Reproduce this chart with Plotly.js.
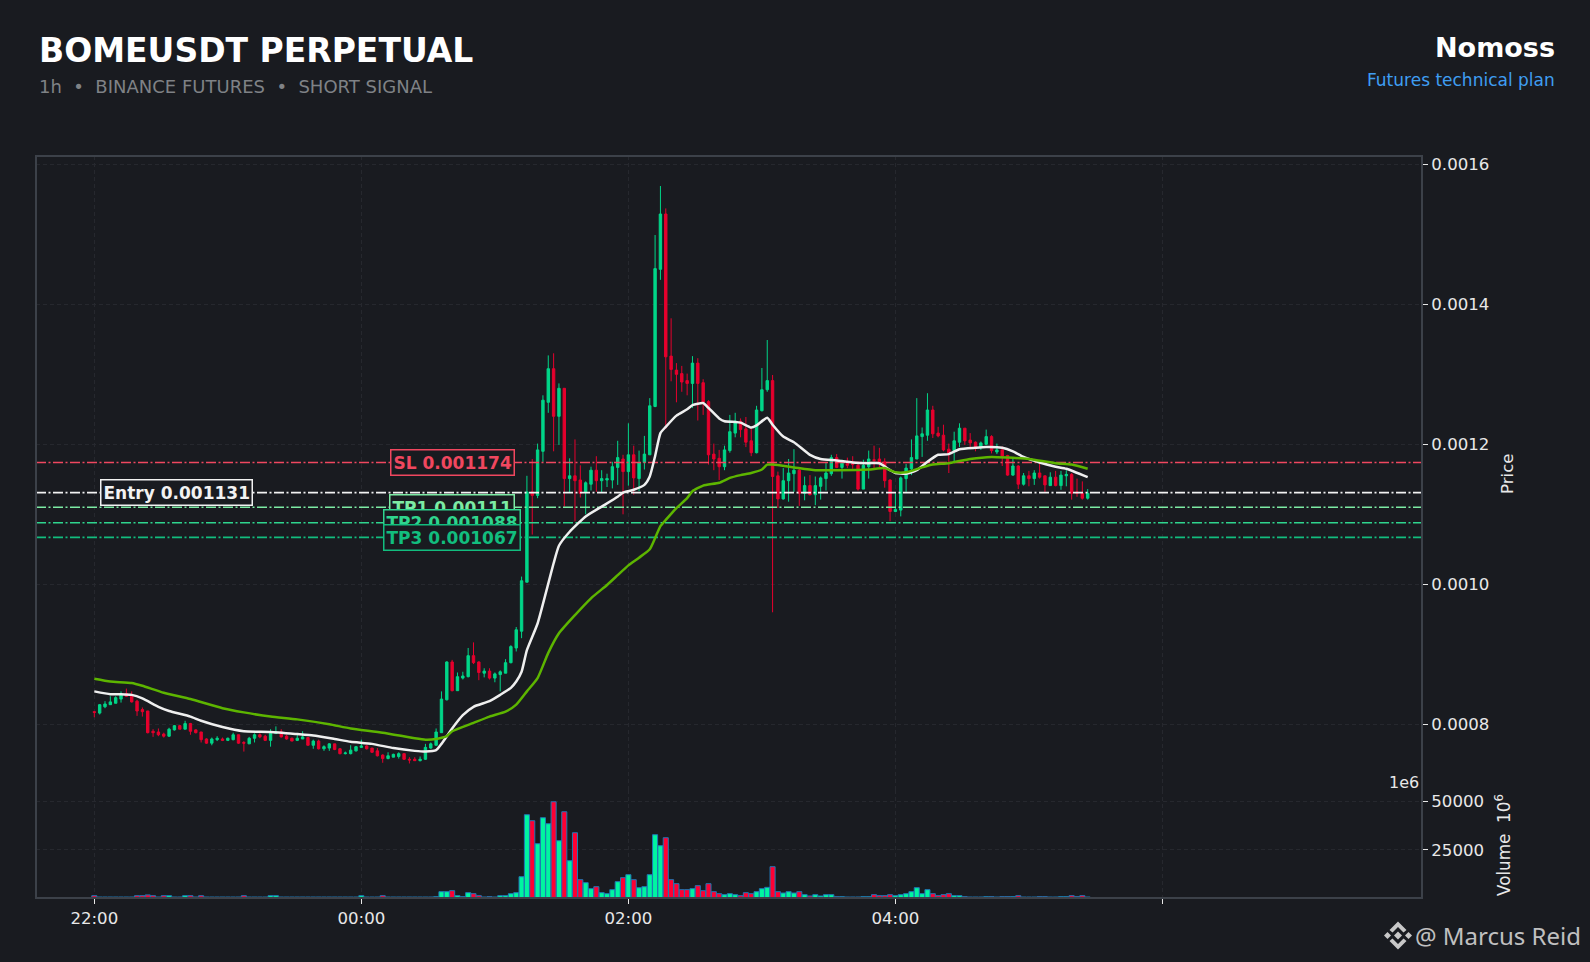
<!DOCTYPE html>
<html>
<head>
<meta charset="utf-8">
<script src="https://cdn.plot.ly/plotly-3.0.1.min.js"></script>
<style>html,body{margin:0;padding:0;background:#191b20}#chart{width:1590px;height:962px}</style>
</head>
<body>
<div id="chart"></div>
<script>
// Prices are listed in millionths of a USDT
const UNIT = 1e-6;
const openU = [818,816,825,828,830,836,844,840,833,821,819,790,789,786,783,792,798,793,801,792,789,779,773,778,779,777,778,785,774,772,780,785,783,777,787,789,783,780,777,779,781,770,776,765,766,772,765,758,758,762,767,769,766,762,756,751,753,754,758,750,750,748,750,766,770,788,835,
889,848,866,868,898,889,873,876,866,871,873,888,909,933,1003,1132,1127,1190,1260,1308,1240,1280,1151,1155,1149,1132,1143,1163,1148,1149,1149,
1167,1179,1161,1185,1151,1174,1185,1254,1450,1529,1326,1306,1301,1291,1287,1316,1288,1261,1186,1180,1168,1191,1216,1233,1222,1205,1188,1248,1278,
1291,1155,1122,1148,1158,1163,1130,1141,1128,1140,1151,1158,1181,1167,1173,1173,1170,1136,1168,1178,1179,1175,1149,1104,1106,1151,1165,1179,1211,1213,1249,1216,1213,1193,1191,1203,1223,1206,1203,1196,1200,1211,1189,1192,1184,1156,1169,1143,1155,1151,1159,1155,1141,1153,1141,1155,1157,1132,1130,1123];
const highU = [819,829,833,840,840,847,851,847,835,824,819,793,794,788,795,799,799,805,802,793,789,780,781,783,781,781,788,785,776,782,787,787,785,793,797,793,785,781,785,790,782,778,778,770,773,772,766,761,770,769,778,770,766,766,757,760,758,760,758,753,753,754,772,774,794,847,890,
892,874,875,909,917,890,880,880,874,877,893,913,939,1011,1155,1179,1201,1270,1327,1330,1287,1280,1180,1207,1170,1147,1168,1183,1163,1158,1175,
1205,1185,1230,1198,1191,1212,1266,1499,1569,1537,1380,1316,1312,1301,1326,1323,1293,1263,1201,1192,1198,1242,1245,1237,1239,1223,1255,1309,1349,
1299,1161,1166,1179,1193,1166,1154,1156,1154,1154,1175,1185,1186,1178,1181,1183,1175,1178,1191,1198,1195,1180,1150,1130,1154,1172,1207,1266,1224,1273,1255,1225,1228,1201,1218,1230,1223,1216,1204,1204,1221,1213,1201,1197,1185,1180,1170,1159,1162,1163,1174,1155,1160,1162,1162,1163,1159,1151,1147,1136];
const lowU = [810,814,823,828,830,831,839,831,812,811,787,782,783,781,782,791,793,793,785,787,774,772,770,776,776,776,777,772,761,772,774,780,776,768,786,781,778,776,776,779,770,765,764,762,762,763,757,757,757,761,766,764,759,754,745,750,753,751,749,744,748,747,749,765,770,788,834,
847,848,864,867,886,863,867,864,860,847,873,887,904,923,1003,1071,1123,1175,1245,1190,1199,1111,1131,1090,1124,1100,1134,1132,1131,1139,1137,
1142,1100,1141,1128,1133,1164,1185,1253,1435,1222,1290,1260,1275,1270,1252,1234,1242,1171,1163,1149,1163,1188,1210,1210,1196,1183,1187,1247,1275,
960,1109,1121,1118,1132,1112,1120,1127,1113,1121,1134,1155,1166,1151,1166,1165,1134,1136,1151,1166,1166,1138,1090,1103,1097,1132,1156,1179,1182,1205,1209,1210,1190,1159,1175,1196,1199,1194,1190,1192,1199,1187,1186,1169,1155,1155,1136,1141,1140,1142,1151,1132,1141,1140,1135,1140,1121,1125,1121,1121];
const closeU = [817,828,829,832,838,842,840,832,819,818,788,788,785,783,793,798,793,801,790,788,778,773,779,780,777,780,785,773,773,780,785,782,777,787,789,782,779,776,780,782,770,776,765,768,772,764,758,759,763,768,769,765,760,755,751,755,757,758,750,749,748,750,767,772,789,836,889,
848,868,869,898,888,874,876,866,872,875,888,911,935,1005,1132,1127,1192,1263,1308,1240,1280,1151,1155,1148,1130,1145,1163,1148,1151,1151,1168,
1181,1161,1185,1152,1174,1186,1255,1451,1529,1325,1307,1300,1289,1287,1316,1287,1260,1185,1179,1168,1192,1218,1233,1221,1203,1188,1249,1278,1291,
1154,1122,1148,1159,1163,1130,1141,1128,1141,1152,1159,1181,1167,1173,1170,1171,1136,1170,1179,1177,1174,1148,1104,1107,1152,1166,1181,1212,1215,1249,1215,1212,1192,1187,1205,1223,1205,1202,1196,1202,1211,1191,1192,1183,1156,1169,1143,1155,1151,1159,1153,1142,1153,1141,1156,1157,1130,1130,1123,1130];
const volumes = [1200,500,500,500,500,500,500,500,1200,1200,1600,1200,500,1200,1200,500,500,1200,1200,500,1200,500,500,500,500,500,500,500,1200,500,500,500,500,1200,1200,500,500,500,500,500,500,500,500,500,500,500,500,500,500,500,1200,500,500,500,1200,500,500,500,500,500,500,500,500,500,
690,3276,3276,3793,1207,690,2758,2241,1207,517,690,500,1207,1207,2241,2758,11034,43100,40000,28100,41550,38450,49820,29650,44650,19300,33790,9480,7930,4830,5860,2760,2240,4310,8450,10520,12070,9480,5340,5860,12070,32760,27070,31200,9480,7410,4310,4310,4830,6380,3790,7410,3280,2240,1720,2240,1720,1210,2760,2240,3280,
4830,5520,16200,3280,2590,3280,2590,3280,1720,1030,1720,1030,1720,1720,690,690,520,520,520,690,690,1720,1210,1210,1720,1210,1720,2240,3280,5340,2240,4310,2240,1210,1720,2240,1210,1210,690,500,500,500,690,690,500,690,690,690,1210,500,500,500,690,690,500,500,690,690,1210,690,1210,500];

const fastIdx = [0,3,5,7,9,12,14,18,20,24,28,33,38,41,45,48,52,56,60,62,64,65,66,67,69,71,74,76,78,79,80,81,83,85,86,87,89,92,95,98,99,101,103,104,105,106,107,109,111,112,114,115,117,118,120,121,123,124,126,127,129,131,134,136,139,142,145,147,149,150,152,154,156,158,160,162,165,167,170,172,174,177,180,182,186];
const fastVal = [847,843,843,842,837,825,819,811,805,796,790,789,786,784,779,775,772,766,762,761,763,772,783,794,813,825,833,842,852,861,875,906,944,1001,1030,1055,1075,1097,1111,1125,1131,1135,1142,1154,1183,1216,1225,1241,1250,1256,1259,1252,1237,1233,1232,1231,1224,1227,1238,1228,1211,1203,1185,1179,1177,1174,1173,1173,1163,1159,1158,1163,1175,1185,1186,1193,1195,1196,1195,1190,1182,1174,1168,1165,1153];
const slowIdx = [0,3,7,9,13,18,24,28,33,38,44,48,54,60,62,64,66,67,71,74,77,79,81,83,85,87,90,93,96,98,100,102,104,105,106,107,109,111,112,114,117,119,121,123,125,126,127,131,135,139,145,148,150,152,155,157,160,164,168,171,175,180,183,186];
const slowVal = [865,861,859,855,845,836,823,817,811,807,800,794,788,780,778,779,783,790,802,811,818,828,847,866,902,930,956,980,999,1013,1027,1038,1050,1066,1083,1092,1109,1123,1133,1141,1145,1152,1156,1159,1164,1171,1171,1167,1163,1163,1164,1166,1160,1160,1167,1171,1173,1179,1182,1181,1179,1173,1171,1165];

const levelNames = ['SL 0.001174','Entry 0.001131','TP1 0.00111','TP2 0.001088','TP3 0.001067'];
const levelPrices = [0.001174,0.001131,0.00111,0.001088,0.001067];
const levelColors = ['#f0475f','#f2f2f2','#7deba4','#2fd58e','#12bd7e'];
const labelAt = [67,15.3,67,67,67];

const xTickVals = [0,50,100,150,200];
const xTickText = ['22:00','00:00','02:00','04:00',''];
const priceTicks = [0.0008,0.001,0.0012,0.0014,0.0016];
const volumeTicks = [25000,50000];

const BG = '#191b20', GRID = '#26282e', TXT = '#e8e8e8', FONT = '"DejaVu Sans", sans-serif';
const TICK = 16.6, GDASH = '4px,3px';
const idx = openU.map((_, i) => i);
const xMin = -10.92, xMax = 248.6;
const scale = a => a.map(v => v * UNIT);

const traces = [];
traces.push({type:'candlestick', x:idx, open:scale(openU), high:scale(highU), low:scale(lowU), close:scale(closeU),
  xaxis:'x', yaxis:'y', whiskerwidth:0,
  increasing:{line:{color:'#00d688',width:1}, fillcolor:'#00d688'},
  decreasing:{line:{color:'#e6002d',width:1}, fillcolor:'#e6002d'}, hoverinfo:'skip'});
traces.push({type:'bar', x:idx, y:volumes, xaxis:'x', yaxis:'y2', width:0.95,
  marker:{color:idx.map(i => closeU[i] >= openU[i] ? '#00f5a0' : '#ff0033'), line:{color:'#1f77b4', width:1}}, hoverinfo:'skip'});
levelPrices.forEach((p, i) => traces.push({type:'scatter', mode:'lines', x:[xMin,xMax], y:[p,p], xaxis:'x', yaxis:'y',
  line:{color:levelColors[i], width:1.6, dash:'10px,2.5px,2px,2.5px'}, hoverinfo:'skip'}));
traces.push({type:'scatter', mode:'lines', x:fastIdx, y:scale(fastVal), xaxis:'x', yaxis:'y',
  line:{color:'#efefef', width:2.5, shape:'spline', smoothing:0.5}, hoverinfo:'skip'});
traces.push({type:'scatter', mode:'lines', x:slowIdx, y:scale(slowVal), xaxis:'x', yaxis:'y',
  line:{color:'#5db500', width:2.5, shape:'spline', smoothing:0.5}, hoverinfo:'skip'});

const L = 36, R = 1422, T = 156, B = 898;
const X = px => (px - L) / (R - L), Y = py => (B - py) / (B - T);
const text = (t, px, py, size, color, anchor, extra) => Object.assign({text:t, xref:'paper', yref:'paper', x:X(px), y:Y(py),
  xanchor:anchor, yanchor:'middle', showarrow:false, font:{family:FONT, size:size, color:color}}, extra || {});

const annotations = [
  text('<b>BOMEUSDT PERPETUAL</b>', 37, 50, 33, '#ffffff', 'left'),
  text('1h\u00a0\u00a0•\u00a0\u00a0BINANCE FUTURES\u00a0\u00a0•\u00a0\u00a0SHORT SIGNAL', 37, 86, 18, '#7f8286', 'left'),
  text('<b>Nomoss</b>', 1557, 47, 27, '#ffffff', 'right'),
  text('Futures technical plan', 1557, 80, 17, '#3f9ef2', 'right'),
  text('1e6', 1421, 782, 16, TXT, 'right'),
  text('Price', 1507, 474, 16.6, TXT, 'center', {textangle:-90}),
  text('Volume  10<sup>6</sup>', 1503, 845, 16.8, TXT, 'center', {textangle:-90}),
  text('@ Marcus Reid', 1583, 936, 24, '#c0c0c0', 'right', {font:{family:'"Noto Sans", sans-serif', size:24, color:'#c0c0c0'}})
];
levelNames.forEach((n, i) => annotations.push({text:'<b>'+n+'</b>', xref:'x', yref:'y', x:labelAt[i], y:levelPrices[i],
  xanchor:'center', yanchor:'middle', showarrow:false, bgcolor:BG, bordercolor:levelColors[i], borderwidth:1.5, borderpad:2,
  font:{family:FONT, size:17, color:levelColors[i]}}));

// Binance-style logo beside the watermark
const cx = 1398, cy = 935.5;
const poly = pts => 'M' + pts.map(p => X(cx + p[0]) + ',' + Y(cy + p[1])).join('L') + 'Z';
const logo = [
  [[0,-4],[4,0],[0,4],[-4,0]],
  [[-14,0],[-10.5,-3.5],[-7,0],[-10.5,3.5]],
  [[14,0],[10.5,-3.5],[7,0],[10.5,3.5]],
  [[0,-14],[8.5,-5.5],[5.5,-3],[0,-8.5],[-5.5,-3],[-8.5,-5.5]],
  [[0,14],[8.5,5.5],[5.5,3],[0,8.5],[-5.5,3],[-8.5,5.5]]
].map(p => ({type:'path', path:poly(p), xref:'paper', yref:'paper', fillcolor:'#c8c8c8', line:{width:0}}));

const domainSplit = Y(790);
const axisBase = {showgrid:true, gridcolor:GRID, griddash:GDASH, gridwidth:1, zeroline:false, showline:false,
  ticks:'outside', ticklen:5, tickcolor:TXT, tickfont:{size:TICK, color:TXT}};
const layout = {
  width:1590, height:962, paper_bgcolor:BG, plot_bgcolor:BG, showlegend:false, boxgap:0.36,
  margin:{l:L, r:1590-R, t:T, b:962-B, pad:0}, font:{family:FONT, color:TXT, size:15},
  xaxis:Object.assign({domain:[0,1], range:[xMin,xMax], anchor:'y2', tickmode:'array', tickvals:xTickVals, ticktext:xTickText,
    rangeslider:{visible:false}}, axisBase),
  yaxis:Object.assign({domain:[domainSplit,1], range:[0.0007061,0.0016119], side:'right', anchor:'x', tickmode:'array', tickvals:priceTicks,
    tickformat:'.4f'}, axisBase),
  yaxis2:Object.assign({domain:[0,domainSplit], range:[0,55900], side:'right', anchor:'x', tickmode:'array', tickvals:volumeTicks,
    tickformat:'d'}, axisBase),
  annotations:annotations,
  shapes:[{type:'rect', xref:'paper', yref:'paper', x0:0, x1:1, y0:0, y1:1, line:{color:'#3c4149', width:2}, fillcolor:'rgba(0,0,0,0)', layer:'above'}].concat(logo)
};
Plotly.newPlot('chart', traces, layout, {displayModeBar:false, staticPlot:true});
</script>
</body>
</html>
